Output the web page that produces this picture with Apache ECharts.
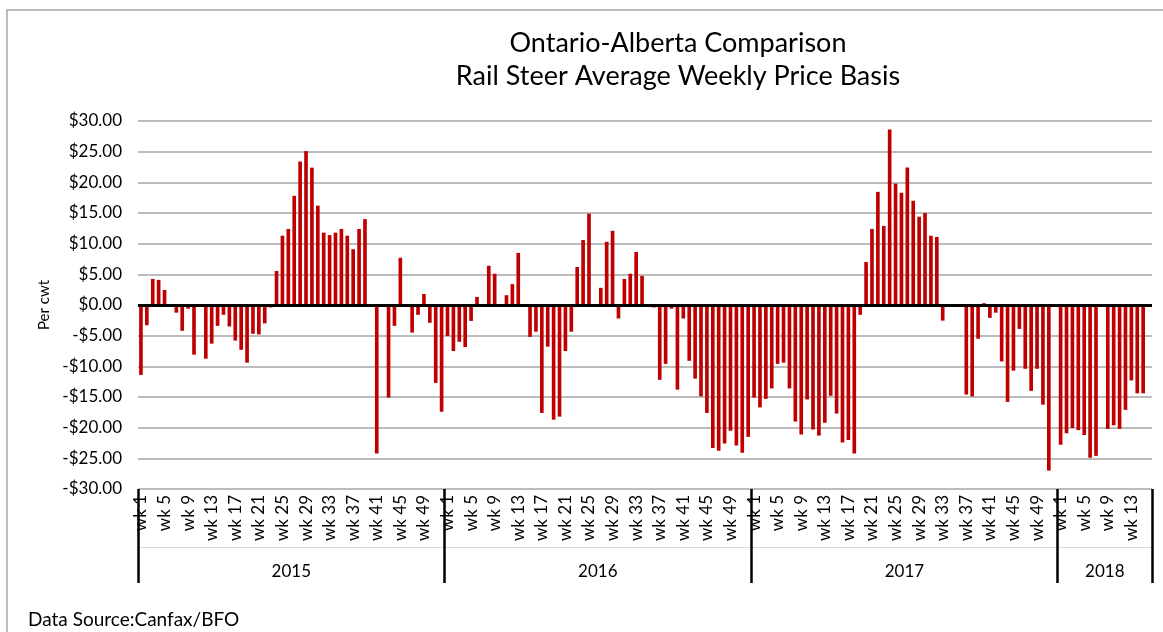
<!DOCTYPE html>
<html>
<head>
<meta charset="utf-8">
<script src="https://cdn.jsdelivr.net/npm/echarts@6/dist/echarts.min.js"></script>
<style>
html,body{margin:0;padding:0;background:#fff;}
#chart{width:1163px;height:632px;}
</style>
</head>
<body>
<div id="chart"></div>
<script>
const years = ['2015', '2016', '2017', '2018'];
const weeksPerYear = [52, 52, 52, 16];
const yTicks = [-30, -25, -20, -15, -10, -5, 0, 5, 10, 15, 20, 25, 30];

const basis2015 = [-11.4, -3.3, 4.25, 4.1, 2.45, null, -1.25, -4.2, -0.6, -8.1,
  null, -8.75, -6.3, -3.4, -1.6, -3.5, -5.8, -7.3, -9.4, -4.7,
  -4.8, -3.0, -0.4, 5.55, 11.3, 12.4, 17.8, 23.4, 25.1, 22.4,
  16.2, 11.8, 11.4, 11.8, 12.4, 11.3, 9.1, 12.4, 14.0, null,
  -24.2, null, -15.1, -3.4, 7.7, null, -4.5, -1.6, 1.8, -2.9,
  -12.7, -17.4];
const basis2016 = [-5.05, -7.5, -6.0, -6.85, -2.6, 1.3, null, 6.4, 5.1, null,
  1.6, 3.4, 8.5, null, -5.2, -4.35, -17.6, -6.8, -18.7, -18.2,
  -7.5, -4.35, 6.2, 10.6, 14.9, null, 2.8, 10.3, 12.1, -2.2,
  4.25, 5.1, 8.65, 4.75, null, -0.4, -12.2, -9.6, -0.6, -13.8,
  -2.2, -9.1, -12.0, -14.9, -17.6, -23.3, -23.75, -22.6, -20.5, -22.9,
  -24.1, -21.5];
const basis2017 = [-15.1, -16.7, -15.3, -13.6, -9.6, -9.4, -13.6, -19.0, -21.1, -15.4,
  -20.3, -21.3, -19.2, -14.8, -17.7, -22.4, -22.0, -24.2, -1.6, 7.0,
  12.4, 18.45, 12.9, 28.6, 19.8, 18.3, 22.4, 17.0, 14.4, 15.0,
  11.3, 11.1, -2.55, null, null, null, -14.6, -14.9, -5.5, 0.3,
  -2.1, -1.25, -9.2, -15.8, -10.7, -3.9, -10.4, -14.0, -10.4, -16.25,
  -27.0, null];
const basis2018 = [-22.8, -20.9, -20.05, -20.4, -21.2, -24.9, -24.6, null, -20.2, -19.6,
  -20.2, -17.1, -12.3, -14.4, -14.4, null];

const categories = [];
years.forEach(function (y, yi) {
  for (let w = 1; w <= weeksPerYear[yi]; w++) categories.push('wk ' + w);
});
const values = [].concat(basis2015, basis2016, basis2017, basis2018);

const yearBounds = [0];
weeksPerYear.forEach(function (n) { yearBounds.push(yearBounds[yearBounds.length - 1] + n); });
const yearCenters = years.map(function (y, i) { return (yearBounds[i] + yearBounds[i + 1]) / 2; });
const total = yearBounds[yearBounds.length - 1];

const FONT = 'Lato, "Open Sans", sans-serif';

const chart = echarts.init(document.getElementById('chart'), null, {renderer: 'canvas'});
chart.setOption({
  animation: false,
  backgroundColor: '#fff',
  textStyle: {fontFamily: FONT},
  title: {
    text: 'Ontario-Alberta Comparison\nRail Steer Average Weekly Price Basis',
    left: 678,
    top: 27,
    padding: 0,
    textAlign: 'center',
    textStyle: {fontFamily: FONT, fontSize: 27, fontWeight: 'normal', lineHeight: 33, color: '#000'}
  },
  graphic: [
    {type: 'rect', shape: {x: 7, y: 10, width: 1300, height: 800}, style: {fill: 'none', stroke: '#a6a6a6', lineWidth: 1.5}, silent: true},
    {type: 'text', left: 28, top: 610, style: {text: 'Data Source:Canfax/BFO', fontFamily: FONT, fontSize: 19, fill: '#000'}}
  ],
  grid: {left: 138, right: 11, top: 121, bottom: 143, containLabel: false},
  xAxis: [
    {
      type: 'category', data: categories, position: 'bottom', boundaryGap: true,
      axisLine: {show: false, onZero: false},
      axisTick: {show: false},
      axisLabel: {interval: 3, rotate: 90, margin: 6, fontSize: 17, color: '#000', fontFamily: FONT},
      splitLine: {show: false}
    },
    {
      type: 'value', min: 0, max: total, position: 'bottom',
      axisLine: {show: false, onZero: false},
      axisTick: {show: true, customValues: yearBounds, length: 94, lineStyle: {color: '#000', width: 2.5}},
      axisLabel: {show: true, customValues: yearCenters, margin: 74, fontSize: 17, color: '#000', fontFamily: FONT,
        formatter: function (v) { const i = yearCenters.indexOf(v); return i >= 0 ? years[i] : ''; }},
      splitLine: {show: false}
    },
    {
      type: 'value', min: 0, max: total, position: 'bottom', offset: 58,
      axisLine: {show: true, onZero: false, lineStyle: {color: '#d9d9d9', width: 1}},
      axisTick: {show: false}, axisLabel: {show: false}, splitLine: {show: false}
    }
  ],
  yAxis: {
    type: 'value', min: yTicks[0], max: yTicks[yTicks.length - 1], interval: 5,
    axisLine: {show: false, onZero: false},
    axisTick: {show: false},
    axisLabel: {margin: 16, fontSize: 17, color: '#000', fontFamily: FONT,
      formatter: function (v) { return (v < 0 ? '-$' : '$') + Math.abs(v).toFixed(2); }},
    splitLine: {show: true, lineStyle: {color: '#a6a6a6', width: 1.5}},
    name: 'Per cwt', nameLocation: 'middle', nameGap: 84,
    nameTextStyle: {fontSize: 15, color: '#000', fontFamily: FONT}
  },
  series: [{
    type: 'bar', xAxisIndex: 0, yAxisIndex: 0, data: values,
    barWidth: '62%',
    itemStyle: {color: '#c00000'},
    markLine: {
      silent: true, symbol: 'none', label: {show: false},
      lineStyle: {color: '#000', width: 3, type: 'solid'},
      data: [{yAxis: 0}]
    }
  }]
});
</script>
</body>
</html>
